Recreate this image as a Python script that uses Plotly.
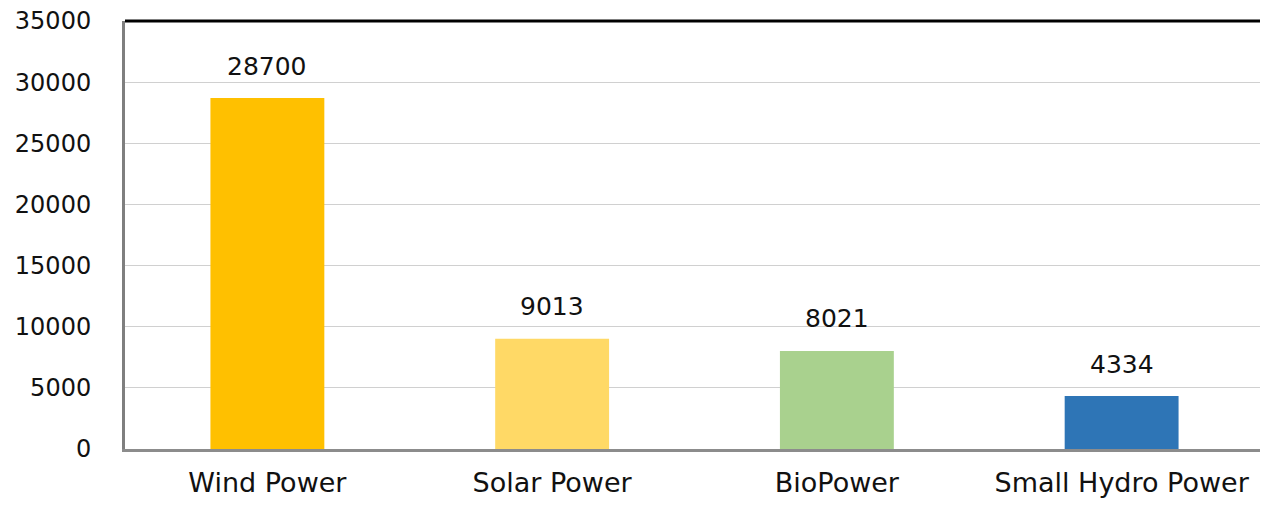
import plotly.graph_objects as go

categories = ["Wind Power", "Solar Power", "BioPower", "Small Hydro Power"]
values = [28700, 9013, 8021, 4334]
colors = ["#FFC000", "#FFD966", "#A9D18E", "#2E75B6"]
y_ticks = [0, 5000, 10000, 15000, 20000, 25000, 30000, 35000]

FONT = "DejaVu Sans"

fig = go.Figure()
fig.add_trace(go.Bar(
    x=categories, y=values,
    marker=dict(color=colors, line=dict(width=0)),
    width=0.4,
    hoverinfo="x+y",
))

for c, v in zip(categories, values):
    fig.add_annotation(x=c, y=v, text=str(v), showarrow=False,
                       yshift=32, font=dict(family=FONT, size=25, color="#111111"))

fig.add_shape(type="line", xref="paper", yref="paper", x0=0, x1=1, y0=1, y1=1,
              line=dict(color="black", width=3))

fig.update_layout(
    width=1260, height=502,
    margin=dict(l=117, r=4, t=13, b=61, autoexpand=False),
    paper_bgcolor="white", plot_bgcolor="white",
    showlegend=False,
    font=dict(family=FONT, size=25, color="#111111"),
    bargap=0.6,
)
fig.update_yaxes(
    range=[0, 35000], tickvals=y_ticks, ticktext=[str(t) for t in y_ticks],
    showgrid=True, gridcolor="#D0D0D0", gridwidth=1,
    showline=True, linecolor="#7F7F7F", linewidth=3,
    zeroline=False, ticks="", ticklabelstandoff=26,
    ticklabeloverflow="allow", automargin=False,
    tickfont=dict(family=FONT, size=24, color="#111111"),
)
fig.update_xaxes(
    showline=True, linecolor="#8C8C8C", linewidth=3,
    ticks="", ticklabelstandoff=8, automargin=False,
    tickfont=dict(family=FONT, size=27, color="#111111"),
)

fig.write_html("out.html")
